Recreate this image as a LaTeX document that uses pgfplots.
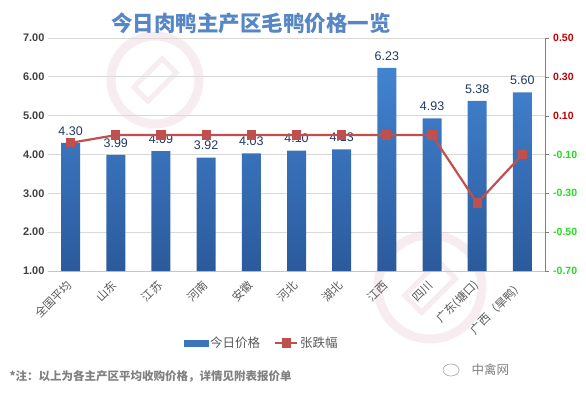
\documentclass[border=0pt]{standalone}
\usepackage{pgfplots}
\pgfplotsset{compat=1.18}
\usepackage{fontspec}
\setmainfont{Liberation Sans}
\newfontfamily\cjk{Noto Sans CJK SC}
\definecolor{bartop}{HTML}{4283D0}
\definecolor{barbot}{HTML}{2B5A9C}
\definecolor{barblue}{HTML}{3A74BE}
\definecolor{linered}{HTML}{C0504D}
\definecolor{titleblue}{HTML}{5686C4}
\definecolor{labnavy}{HTML}{1F3A60}
\definecolor{tickgray}{HTML}{404040}
\definecolor{labgray}{HTML}{595959}
\definecolor{gridgray}{HTML}{D9D9D9}
\definecolor{posR}{HTML}{C00000}
\definecolor{negG}{HTML}{22DD22}
\definecolor{wm}{HTML}{E8C8D2}
\begin{document}
\begin{tikzpicture}
\path[use as bounding box] (0pt,0pt) rectangle (586pt,397pt);
% watermark rings
\draw[wm, line width=9pt, opacity=0.35] (155pt,317pt) circle (44pt);
\draw[wm, line width=9pt, opacity=0.35] (430pt,110pt) circle (52pt);
\draw[wm, line width=5pt, opacity=0.35, rotate around={45:(155pt,317pt)}] (135pt,307pt) rectangle (175pt,327pt);
\draw[wm, line width=5pt, opacity=0.35, rotate around={45:(430pt,110pt)}] (406pt,98pt) rectangle (454pt,122pt);
\begin{axis}[
  at={(48pt,126pt)}, anchor=south west,
  scale only axis, width=497pt, height=233pt,
  xmin=-0.5, xmax=10.5, ymin=1, ymax=7,
  ytick={1,2,3,4,5,6,7},
  axis x line*=bottom, axis y line*=left,
  y axis line style={draw=none},
  x axis line style={draw=gridgray!80!gray, -},
  xtick style={draw=none}, ytick style={draw=none},
  ymajorgrids, grid style={gridgray, line width=0.8pt},
  /pgf/number format/assume math mode=true,
  yticklabel style={font=\bfseries\fontsize{11}{12}\selectfont, text=tickgray, /pgf/number format/.cd, fixed, fixed zerofill, precision=2},
  xtick={0,...,10},
  xticklabels={全国平均,山东,江苏,河南,安徽,河北,湖北,江西,四川,广东(塘口),广西（旱鸭）},
  xticklabel style={font=\cjk\fontsize{11.5}{12}\selectfont, text=labgray, rotate=45, anchor=east, inner sep=1pt},
  xticklabel shift=7pt,
  ybar, bar width=19pt,
  nodes near coords,
  nodes near coords style={font=\fontsize{12.5}{13}\selectfont, text=labnavy, anchor=south, yshift=4pt, /pgf/number format/.cd, fixed, fixed zerofill, precision=2},
  clip=false,
]
\addplot[draw=none, top color=bartop, bottom color=barbot] coordinates {
 (0,4.30) (1,3.99) (2,4.09) (3,3.92) (4,4.03) (5,4.10) (6,4.13) (7,6.23) (8,4.93) (9,5.38) (10,5.60)};
\end{axis}
\begin{axis}[
  at={(48pt,126pt)}, anchor=south west,
  scale only axis, width=497pt, height=233pt,
  xmin=-0.5, xmax=10.5, ymin=-0.7, ymax=0.5,
  axis x line=none, axis y line*=right,
  y axis line style={draw=gray, -},
  ytick={-0.7,-0.5,-0.3,-0.1,0.1,0.3,0.5},
  ytick style={draw=gray}, tick align=outside, major tick length=4pt,
  /pgf/number format/assume math mode=true,
  yticklabel={\pgfmathparse{\tick<0}\ifdim\pgfmathresult pt>0.5pt\textcolor{negG}{\pgfmathprintnumber[fixed,fixed zerofill,precision=2]{\tick}}\else\textcolor{posR}{\pgfmathprintnumber[fixed,fixed zerofill,precision=2]{\tick}}\fi},
  yticklabel style={font=\bfseries\fontsize{10.5}{12}\selectfont, inner sep=4pt},
  legend style={at={(0.43,-0.309)}, anchor=center, draw=none, fill=none, legend columns=2,
    font=\cjk\fontsize{12.5}{13}\selectfont, text=labgray,
    /tikz/every even column/.append style={column sep=12pt}},
  clip=false,
]
\addlegendimage{legend image code/.code={\fill[barblue] (0pt,-3pt) rectangle (24pt,3pt);}}
\addlegendentry{今日价格}
\addplot[linered, line width=2.2pt, mark=square*, mark size=3.5pt, mark options={fill=linered, draw=linered},
  legend image code/.code={\draw[linered, line width=2pt] (0pt,0pt) -- (22pt,0pt); \fill[linered] (8pt,-3.5pt) rectangle (15pt,3.5pt);}]
coordinates {(0,-0.04) (1,0) (2,0) (3,0) (4,0) (5,0) (6,0) (7,0) (8,0) (9,-0.35) (10,-0.10)};
\addlegendentry{张跌幅}
\end{axis}
\node[font=\cjk\bfseries\fontsize{21.5}{22}\selectfont, text=titleblue] at (251pt,374pt) {今日肉鸭主产区毛鸭价格一览};
\node[anchor=west, font=\cjk\bfseries\fontsize{11.5}{12}\selectfont, text=gray] at (6pt,21pt) {*注：以上为各主产区平均收购价格，详情见附表报价单};
\node[anchor=west, font=\cjk\fontsize{12.5}{13}\selectfont, text=gray] at (468pt,27pt) {中禽网};
\draw[gray!70, line width=0.6pt] (451pt,27pt) ellipse (8pt and 6pt);
\end{tikzpicture}
\end{document}
